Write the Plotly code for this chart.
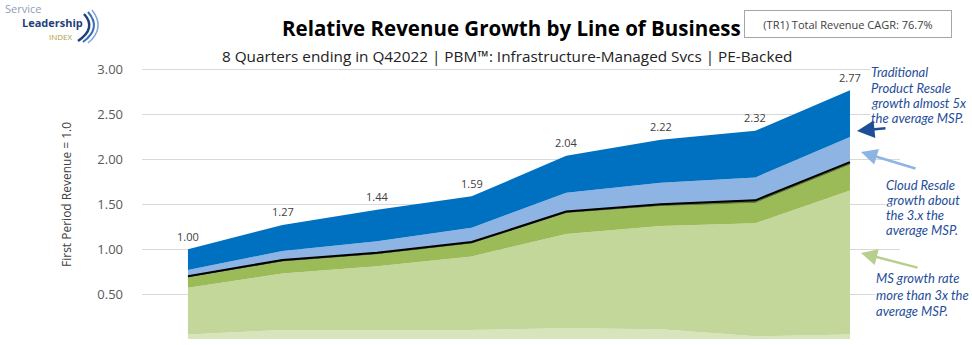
import plotly.graph_objects as go
import numpy as np

# ---- data ----
quarters = ["Q1 2021", "Q2 2021", "Q3 2021", "Q4 2021", "Q1 2022", "Q2 2022", "Q3 2022", "Q4 2022"]
base_layer = [0.05, 0.10, 0.10, 0.10, 0.12, 0.11, 0.03, 0.05]
managed_services = [0.52, 0.63, 0.71, 0.82, 1.05, 1.15, 1.26, 1.605]
projects = [0.115, 0.13, 0.13, 0.14, 0.23, 0.22, 0.225, 0.285]
other_services = [0.015, 0.02, 0.02, 0.02, 0.02, 0.02, 0.03, 0.03]
cloud_resale = [0.07, 0.10, 0.13, 0.16, 0.21, 0.24, 0.255, 0.28]
product_resale = [0.23, 0.29, 0.35, 0.35, 0.41, 0.48, 0.52, 0.52]
total_labels = [1.00, 1.27, 1.44, 1.59, 2.04, 2.22, 2.32, 2.77]
y_ticks = [0.5, 1.0, 1.5, 2.0, 2.5, 3.0]

callout_product = ["Traditional", "Product Resale", "growth almost 5x", "the average MSP."]
callout_cloud = ["Cloud Resale", "growth about", "the 3.x the", "average MSP."]
callout_ms = ["MS growth rate", "more than 3x the", "average MSP."]

x = list(range(len(quarters)))

layers = [
    ("Other", base_layer, "#D8E4BC"),
    ("Managed Services", managed_services, "#C4D79B"),
    ("Projects", projects, "#9BBB59"),
    ("Other Services", other_services, "#5E7A2E"),
    ("Cloud Resale", cloud_resale, "#8DB4E2"),
    ("Traditional Product Resale", product_resale, "#0070C0"),
]

fig = go.Figure()
for name, vals, col in layers:
    fig.add_trace(go.Scatter(
        x=x, y=vals, name=name, mode="lines", stackgroup="one",
        line=dict(width=0, color=col), fillcolor=col, hoverinfo="skip"))

services_top = np.array(base_layer) + np.array(managed_services) + np.array(projects) + np.array(other_services)
fig.add_trace(go.Scatter(x=x, y=services_top, mode="lines",
                         line=dict(color="black", width=2), hoverinfo="skip"))

# plot geometry helpers (pixel -> paper)
L, R, T, B = 142, 900, 60, 339
W, H = R - L, B - T
def px(xp):
    return (xp - L) / W
def py(yp):
    return (B - yp) / H

def note(xp, yp, text, font, xanchor="center", yanchor="middle", **kw):
    d = dict(x=px(xp), y=py(yp), xref="paper", yref="paper", showarrow=False,
             xanchor=xanchor, yanchor=yanchor, text=text, font=font)
    d.update(kw)
    return d

annotations = []
for xi, v in zip(x, total_labels):
    annotations.append(dict(x=xi, y=v, xref="x", yref="y", text=f"{v:.2f}", showarrow=False,
                            xanchor="center", yanchor="middle",
                            yshift=13, font=dict(family="Open Sans", size=11, color="#404040")))

blue_txt = "#1F4E99"
cfont = dict(family="Lato", size=13, color=blue_txt)
annotations += [
    note(511, 28, "<b>Relative Revenue Growth by Line of Business</b>",
         dict(family="Open Sans", size=20.5, color="black")),
    note(507, 56, "8 Quarters ending in Q42022 | PBM™: Infrastructure-Managed Svcs | PE-Backed",
         dict(family="Open Sans", size=15.3, color="#222222")),
    note(848, 24, "(TR1) Total Revenue CAGR: 76.7%",
         dict(family="Open Sans", size=11, color="#404040"),
         width=204, height=24, bordercolor="#A6A6A6", borderwidth=1, borderpad=1, bgcolor="white"),
    note(66, 195, "First Period Revenue = 1.0",
         dict(family="Open Sans", size=12, color="#404040"), textangle=-90),
    # logo text
    note(4, 9, "Service", dict(family="Open Sans", size=11, color="#8EA0B6"), xanchor="left", borderpad=0),
    note(21, 23, "<b>Leadership</b>", dict(family="Open Sans", size=11, color="#1F3F7A"), xanchor="left", borderpad=0),
    note(48, 36, "INDEX", dict(family="Open Sans", size=8, color="#B39C3C"), xanchor="left", borderpad=0),
]

for lines, x0, ys in [(callout_product, 870, [72, 88, 103, 118]),
                      (callout_cloud, 885, [185, 200, 215, 230]),
                      (callout_ms, 875, [278, 295, 311])]:
    for ln, yy in zip(lines, ys):
        annotations.append(note(x0, yy, f"<i>{ln}</i>", cfont, xanchor="left", bgcolor="white", borderpad=0))

annotations += [
    dict(x=px(857), y=py(131), xref="paper", yref="paper", ax=30, ay=-3, text="", showarrow=True,
         arrowhead=2, arrowsize=1.4, arrowwidth=2.5, arrowcolor="#1F4E99"),
    dict(x=px(861), y=py(152), xref="paper", yref="paper", ax=56, ay=17, text="", showarrow=True,
         arrowhead=2, arrowsize=1.3, arrowwidth=2.5, arrowcolor="#8DB4E2"),
    dict(x=px(861), y=py(253), xref="paper", yref="paper", ax=58, ay=15, text="", showarrow=True,
         arrowhead=2, arrowsize=1.3, arrowwidth=2.5, arrowcolor="#B7CE8E"),
]

def arc(pts):
    (x0, y0), (xc, yc), (x1, y1) = pts
    return f"M {px(x0)},{py(y0)} Q {px(xc)},{py(yc)} {px(x1)},{py(y1)}"

shapes = [
    dict(type="path", xref="paper", yref="paper", path=arc([(84, 14), (97, 28), (78, 41)]),
         line=dict(color="#1F3F7A", width=2.5)),
    dict(type="path", xref="paper", yref="paper", path=arc([(88, 12), (102, 28), (83, 42)]),
         line=dict(color="#3A6FB5", width=2)),
    dict(type="path", xref="paper", yref="paper", path=arc([(92, 10), (106, 28), (88, 43)]),
         line=dict(color="#7FA7D6", width=1.5)),
]

fig.update_layout(
    width=972, height=345,
    margin=dict(l=L, r=972 - R, t=T, b=345 - B),
    paper_bgcolor="white", plot_bgcolor="white",
    showlegend=False, hovermode=False,
    annotations=annotations, shapes=shapes,
    xaxis=dict(range=[-0.486, 7.529], visible=False, showgrid=False, zeroline=False),
    yaxis=dict(range=[0, 3.108], tickvals=y_ticks, tickformat=".2f", showgrid=True,
               gridcolor="#D9D9D9", gridwidth=1, zeroline=False, showline=False,
               ticks="", ticklabelstandoff=18,
               tickfont=dict(family="Open Sans", size=13, color="#595959")),
)

fig.write_html("out.html")
